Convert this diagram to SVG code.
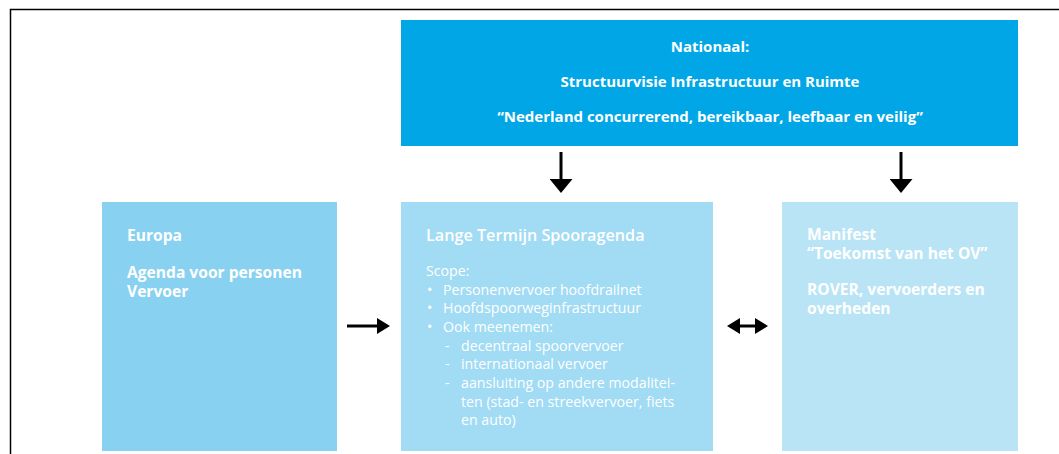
<svg xmlns="http://www.w3.org/2000/svg" width="1059" height="454" viewBox="0 0 1059 454">
  <style>
    .frame { fill: none; stroke: #000; stroke-width: 1.5; }
    .head { font-family: "Open Sans", "Liberation Sans", sans-serif; font-weight: 700; font-size: 15px; fill: #fff; }
    .box { font-size: 15.6px; }
    .title { font-family: "Open Sans", "Liberation Sans", sans-serif; font-weight: 600; font-size: 16.2px; fill: #fff; }
    .body { font-family: "Open Sans", "Liberation Sans", sans-serif; font-weight: 400; font-size: 14.2px; fill: #fff; }
    .mid { text-anchor: middle; }
    .conn { stroke: #000; stroke-width: 3; fill: none; }
  </style>
  <defs>
    <marker id="headBig" markerUnits="userSpaceOnUse" markerWidth="14" markerHeight="23" refX="0" refY="11.5" orient="auto" viewBox="0 0 14 23">
      <path d="M0,0 L14,11.5 L0,23 z" fill="#000"/>
    </marker>
    <marker id="headSmall" markerUnits="userSpaceOnUse" markerWidth="13" markerHeight="16" refX="0" refY="8" orient="auto-start-reverse" viewBox="0 0 13 16">
      <path d="M0,0 L13,8 L0,16 z" fill="#000"/>
    </marker>
  </defs>

  <rect width="1059" height="454" fill="#fff"/>
  <!-- page frame -->
  <path class="frame" d="M10.5,454 V9.5 H1059"/>

  <!-- national level -->
  <g id="nationaal">
    <rect x="401" y="20" width="617" height="126" fill="#00a6e6"/>
    <text class="head mid" x="710" y="52">Nationaal:</text>
    <text class="head mid" x="710" y="87" font-size="15.3">Structuurvisie Infrastructuur en Ruimte</text>
    <text class="head mid" x="710" y="122">“Nederland concurrerend, bereikbaar, leefbaar en veilig”</text>
  </g>

  <!-- european level -->
  <g id="europa">
    <rect x="102" y="202" width="235" height="249" fill="#88d1f1"/>
    <text class="head box" x="127" y="241">Europa</text>
    <text class="head box" x="127" y="278">Agenda voor personen</text>
    <text class="head box" x="127" y="297">Vervoer</text>
  </g>

  <!-- long-term rail agenda -->
  <g id="spooragenda">
    <rect x="401" y="202" width="312" height="249" fill="#a1dbf4"/>
    <text class="title" x="426" y="241">Lange Termijn Spooragenda</text>
    <text class="body" x="426" y="276">Scope:</text>
    <text class="body" x="427" y="295">•</text>
    <text class="body" x="443" y="295">Personenvervoer hoofdrailnet</text>
    <text class="body" x="427" y="313">•</text>
    <text class="body" x="443" y="313">Hoofdspoorweginfrastructuur</text>
    <text class="body" x="427" y="332">•</text>
    <text class="body" x="443" y="332">Ook meenemen:</text>
    <text class="body" x="445" y="351">-</text>
    <text class="body" x="461" y="351">decentraal spoorvervoer</text>
    <text class="body" x="445" y="369">-</text>
    <text class="body" x="461" y="369">internationaal vervoer</text>
    <text class="body" x="445" y="388">-</text>
    <text class="body" x="461" y="388">aansluiting op andere modalitei-</text>
    <text class="body" x="461" y="407">ten (stad- en streekvervoer, fiets</text>
    <text class="body" x="461" y="425">en auto)</text>
  </g>

  <!-- manifesto -->
  <g id="manifest">
    <rect x="782" y="202" width="236" height="249" fill="#b8e4f6"/>
    <text class="head box" x="807" y="240">Manifest</text>
    <text class="head box" x="807" y="259">“Toekomst van het OV”</text>
    <text class="head box" x="807" y="295">ROVER, vervoerders en</text>
    <text class="head box" x="807" y="314">overheden</text>
  </g>

  <!-- connectors -->
  <g id="connectors">
    <path class="conn" d="M561,152 V179" marker-end="url(#headBig)"/>
    <path class="conn" d="M901,152 V179" marker-end="url(#headBig)"/>
    <path class="conn" d="M347,326 H377" marker-end="url(#headSmall)"/>
    <path class="conn" d="M740,326 H755" marker-start="url(#headSmall)" marker-end="url(#headSmall)"/>
  </g>
</svg>
